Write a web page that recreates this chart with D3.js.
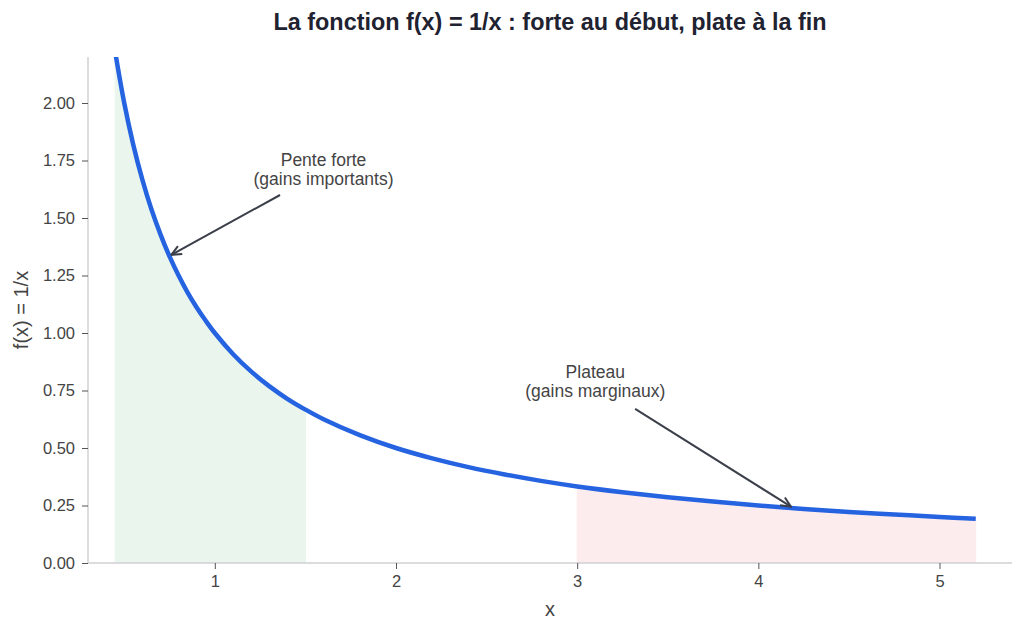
<!DOCTYPE html>
<html>
<head>
<meta charset="utf-8">
<script src="https://cdn.jsdelivr.net/npm/d3@7"></script>
<style>
  body { margin: 0; background: white; }
  text { font-family: "Liberation Sans", Arial, sans-serif; }
</style>
</head>
<body>
<div id="chart"></div>
<script>
// valeurs
let curveX = [0.45, 0.5, 0.55, 0.6, 0.65, 0.7, 0.75, 0.8, 0.85, 0.9, 0.95, 1.0, 1.1, 1.2, 1.3, 1.4, 1.5,
    1.6, 1.8, 2.0, 2.2, 2.4, 2.6, 2.8, 3.0, 3.25, 3.5, 3.75, 4.0, 4.25, 4.5, 4.75, 5.0, 5.2]
let curveY = [2.222, 2.000, 1.818, 1.667, 1.538, 1.429, 1.333, 1.250, 1.176, 1.111, 1.053, 1.000, 0.909, 0.833, 0.769, 0.714, 0.667,
    0.625, 0.556, 0.500, 0.455, 0.417, 0.385, 0.357, 0.333, 0.308, 0.286, 0.267, 0.250, 0.235, 0.222, 0.211, 0.200, 0.192]

// zones colorées [début, fin]
let zoneStart = [0.45, 3.0]
let zoneEnd = [1.5, 5.2]
let zoneColor = ["#e3f3e8", "#fde6e7"]

let xTicks = [1, 2, 3, 4, 5]
let yTicks = [0, 0.25, 0.5, 0.75, 1.0, 1.25, 1.5, 1.75, 2.0]

// annotations
let noteLines = [["Pente forte", "(gains importants)"], ["Plateau", "(gains marginaux)"]]
let noteX = [1.60, 3.10]
let noteY = [1.725, 0.805]
let arrowFromX = [1.36, 3.32]
let arrowFromY = [1.60, 0.67]
let arrowToX = [0.76, 4.18]
let arrowToY = [1.34, 0.245]

let width = 1024
let height = 632
let margin = { top: 57, right: 12, bottom: 69, left: 88 }

let svg = d3.select("#chart")
    .append("svg")
    .attr("width", width)
    .attr("height", height)

let x = d3.scaleLinear().domain([0.3, 5.4]).range([margin.left, width - margin.right])
let y = d3.scaleLinear().domain([0, 2.2]).range([height - margin.bottom, margin.top])

let points = curveX.map((d, i) => [d, curveY[i]])

svg.append("defs").append("clipPath").attr("id", "plotClip")
    .append("rect")
    .attr("x", margin.left).attr("y", margin.top)
    .attr("width", width - margin.left - margin.right)
    .attr("height", height - margin.top - margin.bottom)

svg.select("defs").append("marker")
    .attr("id", "head")
    .attr("viewBox", "0 0 12 12")
    .attr("refX", 11).attr("refY", 6)
    .attr("markerWidth", 12).attr("markerHeight", 12)
    .attr("markerUnits", "userSpaceOnUse")
    .attr("orient", "auto")
    .append("path")
    .attr("d", "M1,1.5 L11,6 L1,10.5")
    .attr("fill", "none")
    .attr("stroke", "#3b3f4a")
    .attr("stroke-width", 2)

let plot = svg.append("g").attr("clip-path", "url(#plotClip)")

// zones sous la courbe
let area = d3.area()
    .x(d => x(d[0]))
    .y0(y(0))
    .y1(d => y(d[1]))
    .curve(d3.curveCatmullRom)

zoneStart.forEach(function (s, i) {
    let seg = points.filter(p => p[0] >= s && p[0] <= zoneEnd[i])
    plot.append("path")
        .attr("d", area(seg))
        .attr("fill", zoneColor[i])
        .attr("stroke", zoneColor[i])
        .attr("stroke-width", 1)
        .attr("opacity", 0.75)
})

// axes
let yAxis = d3.axisLeft(y).tickValues(yTicks).tickFormat(d3.format(".2f")).tickSize(6).tickPadding(7)
let xAxis = d3.axisBottom(x).tickValues(xTicks).tickFormat(d3.format("d")).tickSize(6).tickPadding(6)

let gy = svg.append("g").attr("transform", `translate(${margin.left},0)`).call(yAxis)
let gx = svg.append("g").attr("transform", `translate(0,${height - margin.bottom})`).call(xAxis)

;[gx, gy].forEach(g => {
    g.select(".domain").attr("stroke", "#d0d0d4").attr("stroke-width", 1.5)
    g.selectAll(".tick line").attr("stroke", "#555")
    g.selectAll(".tick text").attr("fill", "#444").style("font-size", "16.5px")
})
gy.select(".domain").attr("d", `M0,${y(0)}V${y(2.2)}`)
gx.select(".domain").attr("d", `M${x(0.3)},0H${x(5.4)}`)

// courbe
let line = d3.line()
    .x(d => x(d[0]))
    .y(d => y(d[1]))
    .curve(d3.curveCatmullRom)

plot.append("path")
    .attr("d", line(points))
    .attr("fill", "none")
    .attr("stroke", "#2563e0")
    .attr("stroke-width", 4.5)

// annotations
noteLines.forEach(function (lines, i) {
    let t = svg.append("text")
        .attr("text-anchor", "middle")
        .attr("fill", "#444")
        .style("font-size", "17.5px")
    lines.forEach((l, j) => {
        t.append("tspan")
            .attr("x", x(noteX[i]))
            .attr("y", y(noteY[i]) + j * 19)
            .text(l)
    })
    svg.append("line")
        .attr("x1", x(arrowFromX[i])).attr("y1", y(arrowFromY[i]))
        .attr("x2", x(arrowToX[i])).attr("y2", y(arrowToY[i]))
        .attr("stroke", "#3b3f4a")
        .attr("stroke-width", 2)
        .attr("marker-end", "url(#head)")
})

// titres
svg.append("text")
    .attr("x", 550).attr("y", 30)
    .attr("text-anchor", "middle")
    .attr("fill", "#1f2230")
    .style("font-size", "23.4px")
    .style("font-weight", "bold")
    .text("La fonction f(x) = 1/x : forte au début, plate à la fin")

svg.append("text")
    .attr("x", (margin.left + width - margin.right) / 2).attr("y", 616)
    .attr("text-anchor", "middle")
    .attr("fill", "#444")
    .style("font-size", "20px")
    .text("x")

svg.append("text")
    .attr("transform", `translate(28,${(margin.top + height - margin.bottom) / 2}) rotate(-90)`)
    .attr("text-anchor", "middle")
    .attr("fill", "#444")
    .style("font-size", "20px")
    .text("f(x) = 1/x")
</script>
</body>
</html>
